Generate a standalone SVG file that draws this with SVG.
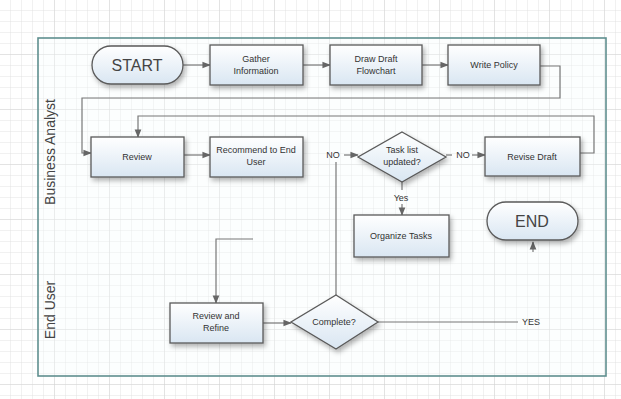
<svg xmlns="http://www.w3.org/2000/svg" width="621" height="399" viewBox="0 0 621 399">
<defs>
<pattern id="grid" width="11" height="11" patternUnits="userSpaceOnUse">
<path d="M11 0V11M0 11H11" fill="none" stroke="#e2e2e2" stroke-width="1"/>
</pattern>
<pattern id="gridMajor" width="55" height="55" patternUnits="userSpaceOnUse">
<path d="M55 0V55M0 55H55" fill="none" stroke="#d4d4d4" stroke-width="1"/>
</pattern>
<linearGradient id="fill" x1="0" y1="0" x2="0" y2="1">
<stop offset="0" stop-color="#ffffff"/>
<stop offset="1" stop-color="#d9e6f2"/>
</linearGradient>
<filter id="sh" x="-20%" y="-20%" width="150%" height="160%">
<feDropShadow dx="2" dy="3" stdDeviation="2.5" flood-color="#000" flood-opacity="0.3"/>
</filter>
<marker id="arr" viewBox="0 0 10 10" refX="9" refY="5" markerWidth="7" markerHeight="7" orient="auto">
<path d="M0 1L10 5L0 9Z" fill="#666"/>
</marker>
</defs>
<style>
.shape{fill:url(#fill);stroke:#5a5a5a;stroke-width:1.3;filter:url(#sh)}
.t{font-family:"Liberation Sans",Arial,sans-serif;font-size:9px;fill:#333;text-anchor:middle}
.big{font-family:"Liberation Sans",Arial,sans-serif;font-size:16px;fill:#444;text-anchor:middle}
.lane{font-family:"Liberation Sans",Arial,sans-serif;font-size:14px;fill:#444;text-anchor:middle}
.c{fill:none;stroke:#777;stroke-width:1.2}
.ca{fill:none;stroke:#777;stroke-width:1.2;marker-end:url(#arr)}
</style>
<rect width="621" height="399" fill="#ffffff"/>
<rect width="621" height="399" fill="url(#grid)"/>
<rect width="621" height="399" fill="url(#gridMajor)"/>
<g id="pool">
<rect x="38" y="38" width="568" height="338" fill="#f7fbfb" fill-opacity="0.35" stroke="#5f8f8f" stroke-width="1.6"/>
<text class="lane" transform="translate(55 152) rotate(-90)">Business Analyst</text>
<text class="lane" transform="translate(55 310) rotate(-90)">End User</text>
</g>
<g id="connectors">
<path class="ca" d="M183 65H210"/>
<path class="ca" d="M303 65H330"/>
<path class="ca" d="M422 65H448"/>
<path class="ca" d="M540 66H560V98H82V153H91"/>
<path class="ca" d="M580 153H594V116H138V137"/>
<path class="ca" d="M184 155H210"/>
<path class="c" d="M336 295V162"/>
<text class="t" x="333" y="158">NO</text>
<path class="ca" d="M344 155H358"/>
<path class="c" d="M446 155H452"/>
<text class="t" x="463" y="158">NO</text>
<path class="ca" d="M472 155H485"/>
<path class="c" d="M402 182V190"/>
<text class="t" x="401" y="201">Yes</text>
<path class="ca" d="M402 204V215"/>
<path class="ca" d="M253 239H216V303"/>
<path class="ca" d="M263 323H291"/>
<path class="c" d="M378 322H518"/>
<text class="t" x="531" y="325">YES</text>
<path class="ca" d="M533 252V242"/>
</g>
<g id="start">
<rect class="shape" x="92" y="46" width="91" height="38" rx="19"/>
<text class="big" x="137" y="71">START</text>
</g>
<g id="gather">
<rect class="shape" x="210" y="45" width="93" height="40"/>
<text class="t" x="256" y="62">Gather</text>
<text class="t" x="256" y="74">Information</text>
</g>
<g id="draft">
<rect class="shape" x="330" y="45" width="92" height="40"/>
<text class="t" x="376" y="62">Draw Draft</text>
<text class="t" x="376" y="74">Flowchart</text>
</g>
<g id="write">
<rect class="shape" x="448" y="45" width="92" height="40"/>
<text class="t" x="494" y="68">Write Policy</text>
</g>
<g id="review">
<rect class="shape" x="91" y="137" width="93" height="40"/>
<text class="t" x="137" y="160">Review</text>
</g>
<g id="recommend">
<rect class="shape" x="210" y="137" width="93" height="40"/>
<text class="t" x="256" y="153">Recommend to End</text>
<text class="t" x="256" y="165">User</text>
</g>
<g id="tasklist">
<path class="shape" d="M402 132L446 157L402 182L358 157Z"/>
<text class="t" x="402" y="153">Task list</text>
<text class="t" x="402" y="165">updated?</text>
</g>
<g id="revise">
<rect class="shape" x="485" y="137" width="95" height="39"/>
<text class="t" x="532" y="160">Revise Draft</text>
</g>
<g id="organize">
<rect class="shape" x="354" y="215" width="95" height="42"/>
<text class="t" x="401" y="239">Organize Tasks</text>
</g>
<g id="end">
<rect class="shape" x="487" y="202" width="91" height="38" rx="19"/>
<text class="big" x="532" y="227">END</text>
</g>
<g id="refine">
<rect class="shape" x="170" y="303" width="93" height="40"/>
<text class="t" x="216" y="319">Review and</text>
<text class="t" x="216" y="331">Refine</text>
</g>
<g id="complete">
<path class="shape" d="M336 295L378 322L336 349L291 322Z"/>
<text class="t" x="334" y="325">Complete?</text>
</g>
</svg>
